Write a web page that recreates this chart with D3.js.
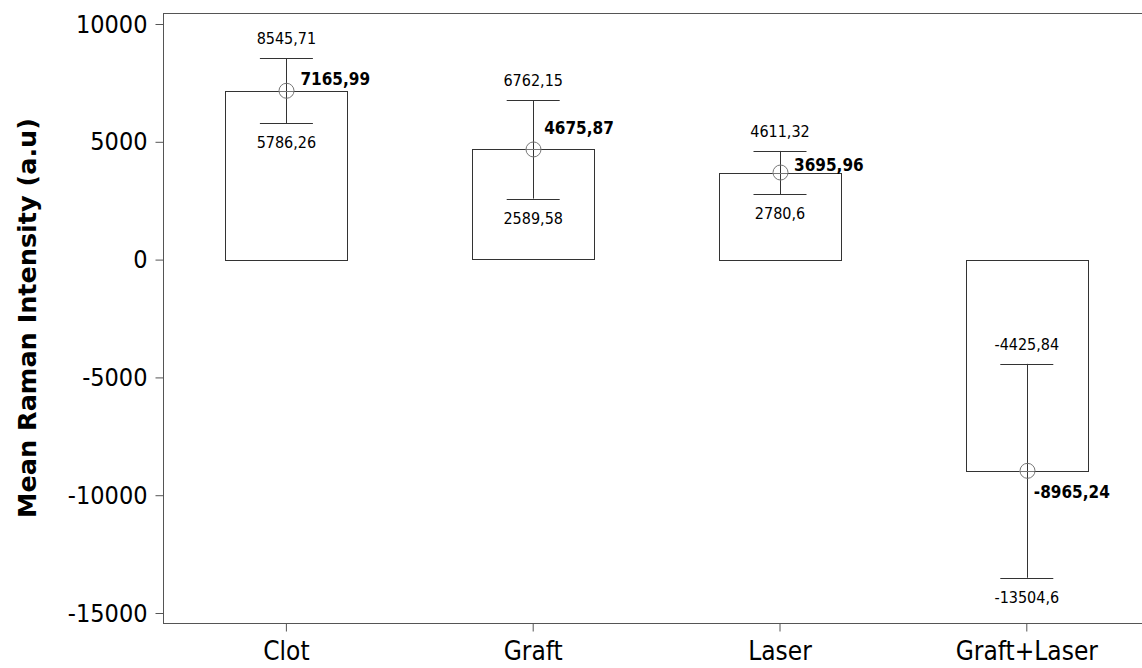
<!DOCTYPE html>
<html>
<head>
<meta charset="utf-8">
<script src="https://cdn.jsdelivr.net/npm/d3@7"></script>
<style>
  body { margin: 0; background: #fff; }
  text { font-family: "DejaVu Sans Condensed", "DejaVu Sans", sans-serif; font-stretch: condensed; }
</style>
</head>
<body>
<script>
// group means with the ends of their interval bars
var categories = ["Clot", "Graft", "Laser", "Graft+Laser"];
var means = [7165.99, 4675.87, 3695.96, -8965.24];
var upper = [8545.71, 6762.15, 4611.32, -4425.84];
var lower = [5786.26, 2589.58, 2780.6, -13504.6];
var yTicks = [10000, 5000, 0, -5000, -10000, -15000];

// where the bold mean label sits relative to the circle (baseline offset)
var meanLabelDy = [-6, -15, -2, 27];
var meanLabelDx = [14, 11, 14, 7];

var width = 1142, height = 668;
var margin = {top: 13, left: 163, bottom: 45};

var svg = d3.select("body").append("svg")
    .attr("width", width)
    .attr("height", height);

var x = d3.scaleBand()
    .domain(categories)
    .range([margin.left, margin.left + 4 * 246.8])
    .padding(0);

var y = d3.scaleLinear()
    .domain([-15424, 10467])
    .range([height - margin.bottom, margin.top]);

var fmt = function(v) { return String(v).replace(".", ","); };
var cx = function(i) { return x(categories[i]) + x.bandwidth() / 2; };

// frame: top line and bottom axis line run out to the right edge
svg.append("line")
    .attr("x1", margin.left).attr("x2", width)
    .attr("y1", margin.top + 0.5).attr("y2", margin.top + 0.5)
    .attr("stroke", "#555");

// y axis
var yAxis = svg.append("g")
    .attr("transform", "translate(" + (margin.left + 0.5) + ",0)")
    .call(d3.axisLeft(y).tickValues(yTicks).tickSize(8).tickPadding(8)
        .tickFormat(function(d) { return d; }));
yAxis.selectAll("path, line").attr("stroke", "#555");
yAxis.select(".domain").attr("d", "M0," + margin.top + "V" + (height - margin.bottom));
yAxis.selectAll("text")
    .attr("font-size", 25)
    .attr("fill", "#000")
    .style("font-family", null);

// x axis
var xAxis = svg.append("g")
    .attr("transform", "translate(0," + (height - margin.bottom + 0.5) + ")")
    .call(d3.axisBottom(x).tickSize(8).tickPadding(10).tickSizeOuter(0));
xAxis.select(".domain").attr("d", "M" + margin.left + ",0H" + width).attr("stroke", "#555");
xAxis.selectAll("line").attr("stroke", "#555");
xAxis.selectAll("text")
    .attr("font-size", 26)
    .attr("fill", "#000");

// y title
svg.append("text")
    .attr("transform", "translate(36," + 318 + ") rotate(-90)")
    .attr("text-anchor", "middle")
    .attr("font-size", 25.5)
    .attr("font-weight", "bold")
    .style("font-family", "'DejaVu Sans', sans-serif")
    .style("font-stretch", "normal")
    .text("Mean Raman Intensity (a.u)");

var idx = d3.range(categories.length);
var boxW = 122, capW = 53;

// bars from zero to the mean
svg.append("g").selectAll("rect")
    .data(idx).enter().append("rect")
    .attr("x", function(i) { return Math.round(cx(i) - boxW / 2) + 0.5; })
    .attr("width", boxW)
    .attr("y", function(i) { return Math.round(Math.min(y(0), y(means[i]))) + 0.5; })
    .attr("height", function(i) { return Math.round(Math.abs(y(0) - y(means[i]))); })
    .attr("fill", "none")
    .attr("stroke", "#333");

// interval bars
var bars = svg.append("g").selectAll("g")
    .data(idx).enter().append("g")
    .attr("stroke", "#333");
bars.append("line")
    .attr("x1", function(i) { return Math.round(cx(i)) + 0.5; })
    .attr("x2", function(i) { return Math.round(cx(i)) + 0.5; })
    .attr("y1", function(i) { return y(upper[i]); })
    .attr("y2", function(i) { return y(lower[i]); });
[upper, lower].forEach(function(arr) {
    bars.append("line")
        .attr("x1", function(i) { return cx(i) - capW / 2; })
        .attr("x2", function(i) { return cx(i) + capW / 2; })
        .attr("y1", function(i) { return Math.round(y(arr[i])) + 0.5; })
        .attr("y2", function(i) { return Math.round(y(arr[i])) + 0.5; });
});

// mean circles with a crosshair
svg.append("g").selectAll("circle")
    .data(idx).enter().append("circle")
    .attr("cx", function(i) { return Math.round(cx(i)) + 0.5; })
    .attr("cy", function(i) { return y(means[i]); })
    .attr("r", 7.5)
    .attr("fill", "none")
    .attr("stroke", "#777");
svg.append("g").selectAll("line")
    .data(idx).enter().append("line")
    .attr("x1", function(i) { return cx(i) - 7.5; })
    .attr("x2", function(i) { return cx(i) + 7.5; })
    .attr("y1", function(i) { return Math.round(y(means[i])) + 0.5; })
    .attr("y2", function(i) { return Math.round(y(means[i])) + 0.5; })
    .attr("stroke", "#777");

// value labels
var labels = svg.append("g").attr("font-size", 16).attr("fill", "#000");
labels.selectAll(".up")
    .data(idx).enter().append("text")
    .attr("x", function(i) { return cx(i); })
    .attr("y", function(i) { return y(upper[i]) - 14; })
    .attr("text-anchor", "middle")
    .text(function(i) { return fmt(upper[i]); });
labels.selectAll(".lo")
    .data(idx).enter().append("text")
    .attr("x", function(i) { return cx(i); })
    .attr("y", function(i) { return y(lower[i]) + 25; })
    .attr("text-anchor", "middle")
    .text(function(i) { return fmt(lower[i]); });
labels.selectAll(".mean")
    .data(idx).enter().append("text")
    .attr("x", function(i) { return cx(i) + meanLabelDx[i]; })
    .attr("y", function(i) { return y(means[i]) + meanLabelDy[i]; })
    .attr("font-weight", "bold")
    .attr("font-size", 17)
    .text(function(i) { return fmt(means[i]); });
</script>
</body>
</html>
